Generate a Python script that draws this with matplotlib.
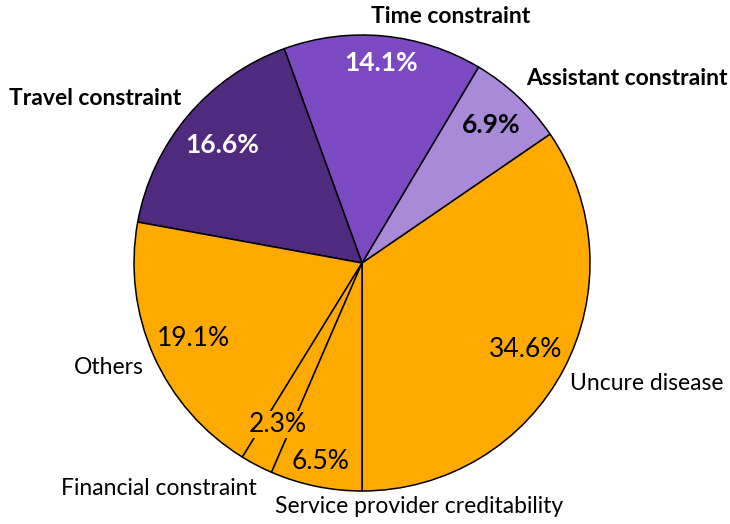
import numpy as np
import matplotlib.pyplot as plt

# slice data, counterclockwise from straight down
labels = ["Uncure disease", "Assistant constraint", "Time constraint",
          "Travel constraint", "Others", "Financial constraint",
          "Service provider creditability"]
shares = [34.6, 6.9, 14.1, 16.6, 19.1, 2.3, 6.5]
colors = ["#FFAA00", "#A98AD8", "#7B4AC2", "#4E2B7E", "#FFAA00", "#FFAA00", "#FFAA00"]

FONT = ["Lato", "DejaVu Sans"]

# where Excel put the category labels (pie radius = 1)
label_xy = [(1.25, -0.53), (1.16, 0.81), (0.39, 1.08), (-1.17, 0.72),
            (-1.11, -0.46), (-0.89, -0.99), (0.25, -1.07)]
label_bold = [False, True, True, True, False, False, False]
pct_dist = [0.81, 0.83, 0.88, 0.80, 0.81, 0.80, 0.89]
pct_color = ["black", "black", "white", "white", "black", "black", "black"]
pct_bold = [False, True, True, True, False, False, False]

fig = plt.figure(figsize=(7.3, 5.24), dpi=100)
ax = fig.add_axes([0, 0, 1, 1])

wedges, _ = ax.pie(shares, colors=colors, startangle=-90, counterclock=True,
                   radius=1.0, center=(0, 0),
                   wedgeprops=dict(edgecolor="black", linewidth=1.1))

for i, w in enumerate(wedges):
    mid = np.deg2rad((w.theta1 + w.theta2) / 2)
    r = pct_dist[i]
    bbox = None
    if labels[i] in ("Financial constraint", "Service provider creditability"):
        bbox = dict(facecolor="#FFAA00", edgecolor="none", pad=0.5)
    ax.text(r * np.cos(mid), r * np.sin(mid), f"{shares[i]:.1f}%",
            ha="center", va="center", fontsize=19, color=pct_color[i],
            fontweight="bold" if pct_bold[i] else "normal",
            family=FONT, bbox=bbox)
    lx, ly = label_xy[i]
    ax.text(lx, ly, labels[i], ha="center", va="center", fontsize=16.5,
            fontweight="bold" if label_bold[i] else "normal",
            family=FONT, color="black")

ax.set_xlim(-362 / 228, (730 - 362) / 228)
ax.set_ylim((263 - 524) / 228, 263 / 228)
ax.set_aspect("equal")
ax.axis("off")

fig.savefig("out.png", dpi=100)
